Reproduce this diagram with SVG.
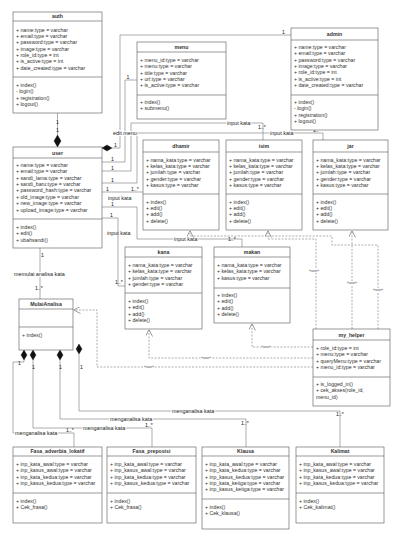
<svg xmlns="http://www.w3.org/2000/svg" width="409" height="538" viewBox="0 0 409 538">
<style>
.bx{fill:#fff;stroke:#555;stroke-width:0.6}
.ln{stroke:#555;stroke-width:0.6}
.t{font-family:"Liberation Sans",Arial,sans-serif;font-size:5.2px;fill:#333}
.ttl{font-weight:bold;text-anchor:middle}
.e{fill:none;stroke:#777;stroke-width:0.6}
.d{stroke-dasharray:2 1.4}
.lb{font-family:"Liberation Sans",Arial,sans-serif;font-size:5.4px;fill:#222;paint-order:stroke;stroke:#fff;stroke-width:2px}
.m{font-family:"Liberation Sans",Arial,sans-serif;font-size:5.2px;fill:#222}
.u{font-family:"Liberation Sans",Arial,sans-serif;font-size:3.6px;fill:#444;paint-order:stroke;stroke:#fff;stroke-width:1.5px;text-anchor:middle}
.dm{fill:#111;stroke:#111;stroke-width:0.4}
</style>
<defs>
<marker id="op" viewBox="0 0 10 10" refX="10" refY="5" markerWidth="7" markerHeight="7" orient="auto" markerUnits="userSpaceOnUse">
<path d="M0,0 L10,5 L0,10" fill="none" stroke="#777" stroke-width="1"/>
</marker>
</defs>

<g id="connectors">
<!-- auth - user -->
<line class="e" x1="57.5" y1="113" x2="57.5" y2="135"/>
<polygon class="dm" points="57.5,135 61,141 57.5,147 54,141"/>
<text class="m" x="56" y="124">1</text>
<text class="m" x="56" y="132">1</text>
<!-- user - admin -->
<polygon class="dm" points="102,148 107,145 112,148 107,151"/>
<polyline class="e" points="112,148 120,148 120,35 291,35"/>
<text class="m" x="114" y="147">1</text>
<text class="m" x="282" y="34">1</text>
<!-- user - menu -->
<polyline class="e" points="102,162 125,162 125,80 137,80"/>
<text class="m" x="111" y="161">1</text>
<text class="m" x="126.5" y="78.5">1</text>
<!-- user - isim -->
<polyline class="e" points="102,171 131,171 131,123 263,123 263,140"/>
<text class="m" x="111" y="170">1</text>
<text class="lb" x="227" y="124.5">input kata</text>
<text class="m" x="258" y="129">1..*</text>
<!-- user - jar -->
<polyline class="e" points="102,183 137,183 137,133 323,133 323,140"/>
<text class="m" x="111" y="182">1</text>
<text class="lb" x="270" y="135">input kata</text>
<text class="m" x="313" y="132">1..*</text>
<text class="lb" x="113" y="134.5">edit menu</text>
<!-- user - dhamir -->
<polyline class="e" points="102,192 143,192"/>
<text class="m" x="106" y="191">1</text>
<text class="m" x="131" y="191">1..*</text>
<text class="lb" x="108" y="200">input kata</text>
<!-- user - makan -->
<polyline class="e" points="102,207 137,207 137,239 242,239 242,247"/>
<text class="m" x="111" y="206">1</text>
<text class="lb" x="107" y="234.5">input kata</text>
<text class="lb" x="174" y="241">input kata</text>
<text class="m" x="228" y="241">1..*</text>
<!-- user - kana -->
<polyline class="e" points="102,218 118,218 118,286 125,286"/>
<text class="m" x="110" y="217">1</text>
<text class="m" x="115" y="284">1..*</text>
<!-- user - MulaiAnalisa -->
<line class="e" x1="40" y1="248" x2="40" y2="299"/>
<text class="m" x="41" y="257">1</text>
<text class="lb" x="14" y="276">memulai analisa kata</text>
<text class="m" x="35" y="290">1..*</text>

<!-- dependencies (use) -->
<polyline class="e d" points="378,329 378,245 332,245 332,236 190,236 190,230.5" marker-end="url(#op)"/>
<text class="u" x="378" y="291">«use»</text>
<polyline class="e d" points="316,329 316,239 268,239 268,230.5" marker-end="url(#op)"/>
<text class="u" x="314" y="272">«use»</text>
<polyline class="e d" points="352,329 352,230.5" marker-end="url(#op)"/>
<text class="u" x="352" y="284">«use»</text>
<polyline class="e d" points="313,347 252,347 252,323.5" marker-end="url(#op)"/>
<text class="u" x="266" y="348">«use»</text>
<polyline class="e d" points="313,358 149,358 149,329.5" marker-end="url(#op)"/>
<text class="u" x="206" y="359">«use»</text>
<polyline class="e d" points="313,367 97,367 97,310 73.5,310" marker-end="url(#op)"/>
<text class="u" x="149" y="368">«use»</text>

<!-- MulaiAnalisa compositions -->
<polygon class="dm" points="24,350 27,355 24,360 21,355"/>
<polyline class="e" points="24,360 24,362 13,362 13,433 74,433 74,447"/>
<text class="m" x="18" y="365">1</text>
<text class="lb" x="15" y="435">menganalisa kata</text>
<text class="m" x="66" y="432">1..*</text>
<polygon class="dm" points="33,350 36,355 33,360 30,355"/>
<polyline class="e" points="33,360 33,428 152,428 152,447"/>
<text class="m" x="32" y="369">1</text>
<text class="lb" x="83" y="430">menganalisa kata</text>
<text class="m" x="145" y="427">1..*</text>
<polygon class="dm" points="60,350 63,355 60,360 57,355"/>
<polyline class="e" points="60,360 60,419 246,419 246,447"/>
<text class="m" x="59" y="369">1</text>
<text class="lb" x="110" y="421">menganalisa kata</text>
<text class="m" x="241" y="425">1..*</text>
<polygon class="dm" points="79,344 82,349 79,354 76,349"/>
<polyline class="e" points="79,354 79,411 340,411 340,447"/>
<text class="m" x="80" y="369">1</text>
<text class="lb" x="172" y="413">menganalisa kata</text>
<text class="m" x="336" y="416">1..*</text>
</g>

<g id="auth">
<rect class="bx" x="13" y="12" width="89" height="101"/>
<line class="ln" x1="13" y1="21" x2="102" y2="21"/>
<line class="ln" x1="13" y1="77" x2="102" y2="77"/>
<text class="t ttl" x="57.5" y="18.3">auth</text>
<text class="t" x="16" y="31.8">+ name:type = varchar</text>
<text class="t" x="16" y="38.1">+ email:type = varchar</text>
<text class="t" x="16" y="44.4">+ password:type = varchar</text>
<text class="t" x="16" y="50.8">+ image:type = varchar</text>
<text class="t" x="16" y="57.1">+ role_id:type = int</text>
<text class="t" x="16" y="63.4">+ is_active:type = int</text>
<text class="t" x="16" y="69.8">+ date_created:type = varchar</text>
<text class="t" x="16" y="86.8">+ index()</text>
<text class="t" x="16" y="93.3">- login()</text>
<text class="t" x="16" y="99.8">+ registration()</text>
<text class="t" x="16" y="106.3">+ logout()</text>
</g>

<g id="user">
<rect class="bx" x="13" y="147" width="89" height="101"/>
<line class="ln" x1="13" y1="158" x2="102" y2="158"/>
<line class="ln" x1="13" y1="219" x2="102" y2="219"/>
<text class="t ttl" x="57.5" y="154.5">user</text>
<text class="t" x="16" y="166.8">+ name:type = varchar</text>
<text class="t" x="16" y="173.2">+ email:type = varchar</text>
<text class="t" x="16" y="179.6">+ sandi_lama:type = varchar</text>
<text class="t" x="16" y="186">+ sandi_baru:type = varchar</text>
<text class="t" x="16" y="192.4">+ password_hash:type = varchar</text>
<text class="t" x="16" y="198.8">+ old_image:type = varchar</text>
<text class="t" x="16" y="205.2">+ new_image:type = varchar</text>
<text class="t" x="16" y="211.6">+ upload_image:type = varchar</text>
<text class="t" x="16" y="228.8">+ index()</text>
<text class="t" x="16" y="235.2">+ edit()</text>
<text class="t" x="16" y="241.6">+ ubahsandi()</text>
</g>

<g id="menu">
<rect class="bx" x="137" y="42" width="89" height="77"/>
<line class="ln" x1="137" y1="52" x2="226" y2="52"/>
<line class="ln" x1="137" y1="95" x2="226" y2="95"/>
<text class="t ttl" x="181.5" y="49">menu</text>
<text class="t" x="140" y="61.8">+ menu_id:type = varchar</text>
<text class="t" x="140" y="68.2">+ menu:type = varchar</text>
<text class="t" x="140" y="74.6">+ title:type = varchar</text>
<text class="t" x="140" y="81">+ url:type = varchar</text>
<text class="t" x="140" y="87.4">+ is_active:type = varchar</text>
<text class="t" x="140" y="103.8">+ index()</text>
<text class="t" x="140" y="110.2">+ submenu()</text>
</g>

<g id="admin">
<rect class="bx" x="291" y="28" width="87" height="102"/>
<line class="ln" x1="291" y1="40" x2="378" y2="40"/>
<line class="ln" x1="291" y1="95" x2="378" y2="95"/>
<text class="t ttl" x="334.5" y="36">admin</text>
<text class="t" x="294" y="48.8">+ name:type = varchar</text>
<text class="t" x="294" y="55.2">+ email:type = varchar</text>
<text class="t" x="294" y="61.6">+ password:type = varchar</text>
<text class="t" x="294" y="68">+ image:type = varchar</text>
<text class="t" x="294" y="74.4">+ role_id:type = int</text>
<text class="t" x="294" y="80.8">+ is_active:type = int</text>
<text class="t" x="294" y="87.2">+ date_created:type = varchar</text>
<text class="t" x="294" y="103.8">+ index()</text>
<text class="t" x="294" y="110.2">- login()</text>
<text class="t" x="294" y="116.6">+ registration()</text>
<text class="t" x="294" y="123">+ logout()</text>
</g>

<g id="dhamir">
<rect class="bx" x="143" y="140" width="76" height="90"/>
<line class="ln" x1="143" y1="152" x2="219" y2="152"/>
<line class="ln" x1="143" y1="194" x2="219" y2="194"/>
<text class="t ttl" x="181" y="148">dhamir</text>
<text class="t" x="146" y="161.8">+ nama_kata:type = varchar</text>
<text class="t" x="146" y="168.1">+ kelas_kata:type = varchar</text>
<text class="t" x="146" y="174.4">+ jumlah:type = varchar</text>
<text class="t" x="146" y="180.7">+ gender:type = varchar</text>
<text class="t" x="146" y="187">+ kasus:type = varchar</text>
<text class="t" x="146" y="203.8">+ index()</text>
<text class="t" x="146" y="210.1">+ edit()</text>
<text class="t" x="146" y="216.4">+ add()</text>
<text class="t" x="146" y="222.7">+ delete()</text>
</g>

<g id="isim">
<rect class="bx" x="226" y="140" width="76" height="90"/>
<line class="ln" x1="226" y1="152" x2="302" y2="152"/>
<line class="ln" x1="226" y1="194" x2="302" y2="194"/>
<text class="t ttl" x="264" y="148">isim</text>
<text class="t" x="229" y="161.8">+ nama_kata:type = varchar</text>
<text class="t" x="229" y="168.1">+ kelas_kata:type = varchar</text>
<text class="t" x="229" y="174.4">+ jumlah:type = varchar</text>
<text class="t" x="229" y="180.7">+ gender:type = varchar</text>
<text class="t" x="229" y="187">+ kasus:type = varchar</text>
<text class="t" x="229" y="203.8">+ index()</text>
<text class="t" x="229" y="210.1">+ edit()</text>
<text class="t" x="229" y="216.4">+ add()</text>
<text class="t" x="229" y="222.7">+ delete()</text>
</g>

<g id="jar">
<rect class="bx" x="313" y="140" width="75" height="90"/>
<line class="ln" x1="313" y1="152" x2="388" y2="152"/>
<line class="ln" x1="313" y1="194" x2="388" y2="194"/>
<text class="t ttl" x="350.5" y="148">jar</text>
<text class="t" x="316" y="161.8">+ nama_kata:type = varchar</text>
<text class="t" x="316" y="168.1">+ kelas_kata:type = varchar</text>
<text class="t" x="316" y="174.4">+ jumlah:type = varchar</text>
<text class="t" x="316" y="180.7">+ gender:type = varchar</text>
<text class="t" x="316" y="187">+ kasus:type = varchar</text>
<text class="t" x="316" y="203.8">+ index()</text>
<text class="t" x="316" y="210.1">+ edit()</text>
<text class="t" x="316" y="216.4">+ add()</text>
<text class="t" x="316" y="222.7">+ delete()</text>
</g>

<g id="kana">
<rect class="bx" x="125" y="247" width="77" height="82"/>
<line class="ln" x1="125" y1="257" x2="202" y2="257"/>
<line class="ln" x1="125" y1="293" x2="202" y2="293"/>
<text class="t ttl" x="163.5" y="254">kana</text>
<text class="t" x="128" y="266.8">+ nama_kata:type = varchar</text>
<text class="t" x="128" y="273.2">+ kelas_kata:type = varchar</text>
<text class="t" x="128" y="279.6">+ jumlah:type = varchar</text>
<text class="t" x="128" y="286">+ gender:type = varchar</text>
<text class="t" x="128" y="302.8">+ index()</text>
<text class="t" x="128" y="309.2">+ edit()</text>
<text class="t" x="128" y="315.6">+ add()</text>
<text class="t" x="128" y="322">+ delete()</text>
</g>

<g id="makan">
<rect class="bx" x="214" y="247" width="76" height="76"/>
<line class="ln" x1="214" y1="257" x2="290" y2="257"/>
<line class="ln" x1="214" y1="288" x2="290" y2="288"/>
<text class="t ttl" x="252" y="254">makan</text>
<text class="t" x="217" y="266.8">+ nama_kata:type = varchar</text>
<text class="t" x="217" y="273.2">+ kelas_kata:type = varchar</text>
<text class="t" x="217" y="279.6">+ kasus:type = varchar</text>
<text class="t" x="217" y="296.8">+ index()</text>
<text class="t" x="217" y="303.2">+ edit()</text>
<text class="t" x="217" y="309.6">+ add()</text>
<text class="t" x="217" y="316">+ delete()</text>
</g>

<g id="MulaiAnalisa">
<rect class="bx" x="19" y="299" width="54" height="51"/>
<line class="ln" x1="19" y1="309" x2="73" y2="309"/>
<line class="ln" x1="19" y1="327" x2="73" y2="327"/>
<text class="t ttl" x="46" y="305.5">MulaiAnalisa</text>
<text class="t" x="22" y="336.8">+ index()</text>
</g>

<g id="my_helper">
<rect class="bx" x="313" y="329" width="77" height="77"/>
<line class="ln" x1="313" y1="340" x2="390" y2="340"/>
<line class="ln" x1="313" y1="377" x2="390" y2="377"/>
<text class="t ttl" x="351.5" y="336.5">my_helper</text>
<text class="t" x="316" y="349.8">+ role_id:type = int</text>
<text class="t" x="316" y="356.2">+ menu:type = varchar</text>
<text class="t" x="316" y="362.6">+ queryMenu:type = varchar</text>
<text class="t" x="316" y="369">+ menu_id:type = varchar</text>
<text class="t" x="316" y="385.8">+ is_logged_in()</text>
<text class="t" x="316" y="392.2">+ cek_akses(role_id,</text>
<text class="t" x="316" y="398.6">menu_id)</text>
</g>

<g id="Fasa_adverbia_lokatif">
<rect class="bx" x="13" y="447" width="89" height="76"/>
<line class="ln" x1="13" y1="456" x2="102" y2="456"/>
<line class="ln" x1="13" y1="493" x2="102" y2="493"/>
<text class="t ttl" x="57.5" y="453">Fasa_adverbia_lokatif</text>
<text class="t" x="16" y="465.8">+ inp_kata_awal:type = varchar</text>
<text class="t" x="16" y="472.2">+ inp_kasus_awal:type = varchar</text>
<text class="t" x="16" y="478.6">+ inp_kata_kedua:type = varchar</text>
<text class="t" x="16" y="485">+ inp_kasus_kedua:type = varchar</text>
<text class="t" x="16" y="502.8">+ index()</text>
<text class="t" x="16" y="509.2">+ Cek_frasa()</text>
</g>

<g id="Fasa_preposisi">
<rect class="bx" x="107" y="447" width="89" height="76"/>
<line class="ln" x1="107" y1="456" x2="196" y2="456"/>
<line class="ln" x1="107" y1="493" x2="196" y2="493"/>
<text class="t ttl" x="151.5" y="453">Fasa_preposisi</text>
<text class="t" x="110" y="465.8">+ inp_kata_awal:type = varchar</text>
<text class="t" x="110" y="472.2">+ inp_kasus_awal:type = varchar</text>
<text class="t" x="110" y="478.6">+ inp_kata_kedua:type = varchar</text>
<text class="t" x="110" y="485">+ inp_kasus_kedua:type = varchar</text>
<text class="t" x="110" y="502.8">+ index()</text>
<text class="t" x="110" y="509.2">+ Cek_frasa()</text>
</g>

<g id="Klausa">
<rect class="bx" x="202" y="447" width="87" height="82"/>
<line class="ln" x1="202" y1="456" x2="289" y2="456"/>
<line class="ln" x1="202" y1="499" x2="289" y2="499"/>
<text class="t ttl" x="245.5" y="453">Klausa</text>
<text class="t" x="205" y="465.8">+ inp_kata_awal:type = varchar</text>
<text class="t" x="205" y="472.2">+ inp_kata_kedua:type = varchar</text>
<text class="t" x="205" y="478.6">+ inp_kasus_kedua:type = varchar</text>
<text class="t" x="205" y="485">+ inp_kata_ketiga:type = varchar</text>
<text class="t" x="205" y="491.4">+ inp_kasus_ketiga:type = varchar</text>
<text class="t" x="205" y="508.8">+ index()</text>
<text class="t" x="205" y="515.2">+ Cek_klausa()</text>
</g>

<g id="Kalimat">
<rect class="bx" x="296" y="447" width="88" height="76"/>
<line class="ln" x1="296" y1="456" x2="384" y2="456"/>
<line class="ln" x1="296" y1="493" x2="384" y2="493"/>
<text class="t ttl" x="340" y="453">Kalimat</text>
<text class="t" x="299" y="465.8">+ inp_kata_awal:type = varchar</text>
<text class="t" x="299" y="472.2">+ inp_kasus_awal:type = varchar</text>
<text class="t" x="299" y="478.6">+ inp_kata_kedua:type = varchar</text>
<text class="t" x="299" y="485">+ inp_kasus_kedua:type = varchar</text>
<text class="t" x="299" y="502.8">+ index()</text>
<text class="t" x="299" y="509.2">+ Cek_kalimat()</text>
</g>
</svg>
